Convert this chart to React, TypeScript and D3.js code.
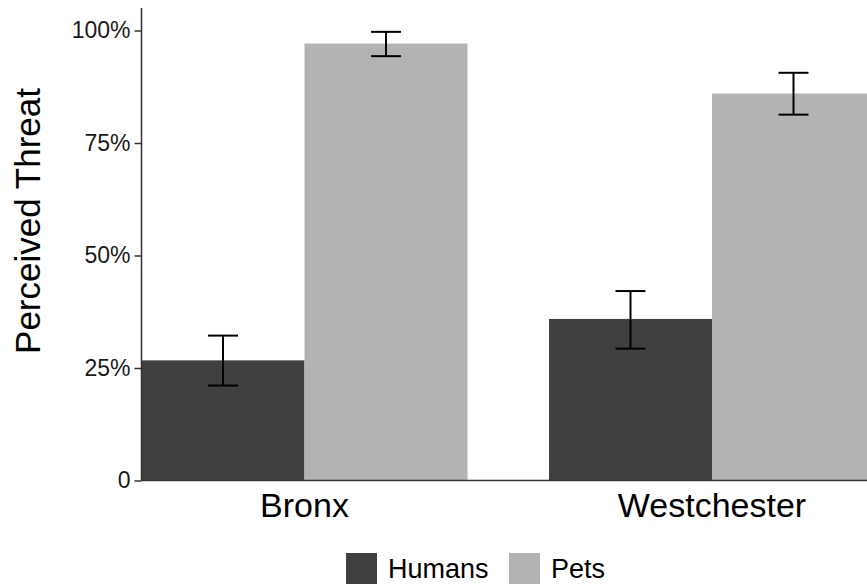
import React, { useRef, useEffect } from 'react';
import * as d3 from 'd3';

const sites = ['Bronx', 'Westchester'];
const groups = ['Humans', 'Pets'];
const groupColors = ['#404040', '#b3b3b3'];
const means = [
  [0.267, 0.971],
  [0.359, 0.86],
];
const lowers = [
  [0.211, 0.943],
  [0.293, 0.813],
];
const uppers = [
  [0.322, 0.997],
  [0.421, 0.906],
];
const yTicks = [0, 0.25, 0.5, 0.75, 1];

const W = 867;
const H = 585;

const App = () => {
  const svgRef = useRef<SVGSVGElement | null>(null);

  useEffect(() => {
    if (!svgRef.current) return;
    const svg = d3.select(svgRef.current);
    svg.selectAll('*').remove();

    const font = '"Liberation Sans", Arial, sans-serif';
    const x0 = 141.5;
    const yBottom = 480.5;

    const y = d3.scaleLinear().domain([0, 1.05]).range([yBottom, 8]);

    const xSite = d3.scaleBand().domain(sites).range([x0, 875]).paddingInner(0.2).paddingOuter(0);
    const xGroup = d3.scaleBand().domain(groups).range([0, xSite.bandwidth()]).padding(0);

    const rows = sites.flatMap((s, i) =>
      groups.map((g, j) => ({ site: s, group: g, color: groupColors[j], mean: means[i][j], lo: lowers[i][j], hi: uppers[i][j] }))
    );

    // bars
    svg.append('g')
      .selectAll('rect')
      .data(rows)
      .enter()
      .append('rect')
      .attr('x', d => (xSite(d.site) as number) + (xGroup(d.group) as number))
      .attr('y', d => y(d.mean))
      .attr('width', xGroup.bandwidth())
      .attr('height', d => yBottom - y(d.mean))
      .attr('fill', d => d.color);

    // error bars
    const capHalf = 15;
    const eb = svg.append('g').attr('stroke', '#000').attr('stroke-width', 2).attr('fill', 'none');
    rows.forEach(d => {
      const cx = (xSite(d.site) as number) + (xGroup(d.group) as number) + xGroup.bandwidth() / 2;
      eb.append('line').attr('x1', cx).attr('x2', cx).attr('y1', y(d.hi)).attr('y2', y(d.lo));
      eb.append('line').attr('x1', cx - capHalf).attr('x2', cx + capHalf).attr('y1', y(d.hi)).attr('y2', y(d.hi));
      eb.append('line').attr('x1', cx - capHalf).attr('x2', cx + capHalf).attr('y1', y(d.lo)).attr('y2', y(d.lo));
    });

    // y axis
    const yAxis = svg.append('g')
      .attr('transform', `translate(${x0},0)`)
      .call(
        d3.axisLeft(y)
          .tickValues(yTicks)
          .tickSize(7)
          .tickPadding(4)
          .tickFormat(d => (+d === 0 ? '0' : `${Math.round(+d * 100)}%`))
      );
    yAxis.select('.domain').attr('stroke', '#333').attr('stroke-width', 1.5).attr('d', `M0,${y(1.05)}V${yBottom}`);
    yAxis.selectAll('.tick line').attr('stroke', '#333').attr('stroke-width', 1.5);
    yAxis.selectAll('.tick text').attr('fill', '#1a1a1a').style('font-family', font).style('font-size', '23px');

    // x axis line
    svg.append('line')
      .attr('x1', x0)
      .attr('x2', W)
      .attr('y1', yBottom)
      .attr('y2', yBottom)
      .attr('stroke', '#333')
      .attr('stroke-width', 1.5);

    // x labels
    svg.append('g')
      .selectAll('text')
      .data(sites)
      .enter()
      .append('text')
      .attr('x', d => (xSite(d) as number) + xSite.bandwidth() / 2)
      .attr('y', 517)
      .attr('text-anchor', 'middle')
      .style('font-family', font)
      .style('font-size', '34px')
      .attr('fill', '#000')
      .text(d => d);

    // y title
    svg.append('text')
      .attr('transform', `translate(40,221) rotate(-90)`)
      .attr('text-anchor', 'middle')
      .style('font-family', font)
      .style('font-size', '35px')
      .attr('fill', '#000')
      .text('Perceived Threat');

    // legend
    const legendX = [346, 509];
    const lg = svg.append('g');
    groups.forEach((g, j) => {
      lg.append('rect')
        .attr('x', legendX[j])
        .attr('y', 553)
        .attr('width', 31)
        .attr('height', 31)
        .attr('fill', groupColors[j]);
      lg.append('text')
        .attr('x', legendX[j] + 42)
        .attr('y', 578)
        .style('font-family', font)
        .style('font-size', '27px')
        .attr('fill', '#000')
        .text(g);
    });
  }, []);

  return (
    <svg
      ref={svgRef}
      width={W}
      height={H}
      style={{ position: 'absolute', left: 0, top: 0, background: '#fff' }}
    />
  );
};

export default App;
